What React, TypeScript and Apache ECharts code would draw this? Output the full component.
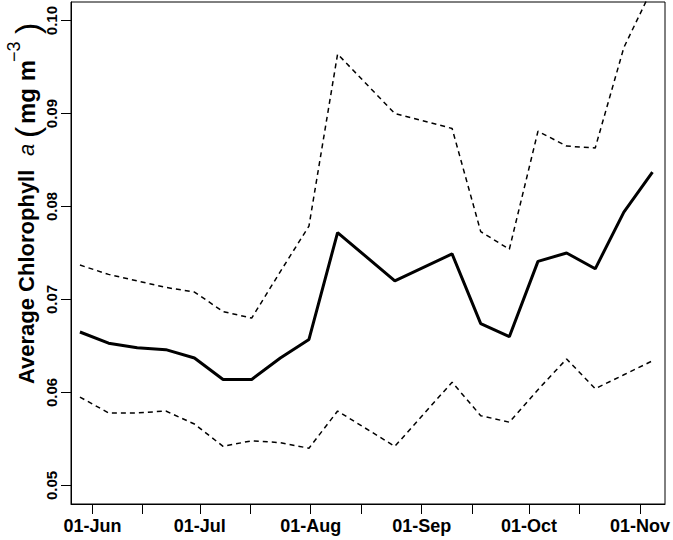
import React, { useEffect, useRef } from "react";
import * as echarts from "echarts";

// 8-day composite mid-points (day of year)
const compositeDoy = [148.5, 156.5, 164.5, 172.5, 180.5, 188.5, 196.5, 204.5, 212.5, 220.5, 236.5, 252.5, 260.5, 268.5, 276.5, 284.5, 292.5, 300.5, 308.5];
const meanChl = [0.0665, 0.0653, 0.0648, 0.0646, 0.0637, 0.0614, 0.0614, 0.0637, 0.0657, 0.0772, 0.0720, 0.0749, 0.0674, 0.0660, 0.0741, 0.0750, 0.0733, 0.0794, 0.0837];
const upperChl = [0.0737, 0.0727, 0.0720, 0.0713, 0.0708, 0.0687, 0.0680, 0.0730, 0.0779, 0.0964, 0.0900, 0.0884, 0.0773, 0.0754, 0.0881, 0.0865, 0.0863, 0.0971, 0.1035];
const lowerChl = [0.0595, 0.0578, 0.0578, 0.0580, 0.0566, 0.0542, 0.0548, 0.0546, 0.0540, 0.0580, 0.0542, 0.0611, 0.0575, 0.0568, 0.0603, 0.0636, 0.0604, 0.0619, 0.0634];

const monthTickDoy = [152, 182, 213, 244, 274, 305];
const monthLabels = ["01-Jun", "01-Jul", "01-Aug", "01-Sep", "01-Oct", "01-Nov"];
const midMonthTickDoy = [166, 196, 227, 258, 288];
const yTicks = [0.05, 0.06, 0.07, 0.08, 0.09, 0.1];

const FONT = "Liberation Sans";

export default function App() {
  const ref = useRef<HTMLDivElement>(null);
  useEffect(() => {
    if (!ref.current) return;
    const chart = echarts.init(ref.current, undefined, { renderer: "svg" });
    const toPairs = (vals: number[]) => compositeDoy.map((d, i) => [d, vals[i]]);
    const allTicks = [...monthTickDoy, ...midMonthTickDoy].sort((a, b) => a - b);
    chart.setOption({
      animation: false,
      backgroundColor: "#fff",
      grid: {
        left: 71,
        right: 8,
        top: 2,
        bottom: 36,
        show: true,
        borderColor: "#000",
        borderWidth: 1,
      },
      xAxis: {
        type: "value",
        min: 146,
        max: 312,
        axisLine: { show: true, lineStyle: { color: "#000", width: 1 } },
        axisTick: { show: true, customValues: allTicks, length: 10, lineStyle: { color: "#000", width: 1 } },
        axisLabel: {
          customValues: monthTickDoy,
          formatter: (v: number) => {
            const i = monthTickDoy.indexOf(Math.round(v));
            return i >= 0 ? monthLabels[i] : "";
          },
          color: "#000",
          fontSize: 18,
          fontWeight: "bold",
          fontFamily: FONT,
          margin: 13,
        },
        splitLine: { show: false },
      },
      yAxis: {
        type: "value",
        min: 0.048,
        max: 0.102,
        axisLine: { show: true, lineStyle: { color: "#000", width: 1 } },
        axisTick: { show: true, customValues: yTicks, length: 10, lineStyle: { color: "#000", width: 1 } },
        axisLabel: {
          customValues: yTicks,
          rotate: 90,
          formatter: (v: number) => v.toFixed(2),
          color: "#000",
          fontSize: 15,
          fontWeight: "bold",
          fontFamily: FONT,
          margin: 12,
        },
        splitLine: { show: false },
      },
      series: [
        {
          type: "line",
          data: toPairs(upperChl),
          symbol: "none",
          clip: true,
          lineStyle: { color: "#000", width: 1.5, type: [5, 4] },
        },
        {
          type: "line",
          data: toPairs(lowerChl),
          symbol: "none",
          clip: true,
          lineStyle: { color: "#000", width: 1.5, type: [5, 4] },
        },
        {
          type: "line",
          data: toPairs(meanChl),
          symbol: "none",
          clip: true,
          z: 3,
          lineStyle: { color: "#000", width: 3 },
        },
      ],
      graphic: [
        {
          type: "group",
          x: 26,
          y: 384,
          rotation: Math.PI / 2,
          children: [
            { type: "text", x: 0, y: 0, style: { text: "Average Chlorophyll", fontSize: 22, fontWeight: "bold", fontFamily: FONT, fill: "#000", align: "left", verticalAlign: "middle" } },
            { type: "text", x: 228, y: 0, style: { text: "a", fontSize: 22, fontStyle: "italic", fontFamily: FONT, fill: "#000", align: "left", verticalAlign: "middle" } },
            { type: "text", x: 246, y: 1, style: { text: "(", fontSize: 34, fontFamily: FONT, fill: "#000", align: "left", verticalAlign: "middle" } },
            { type: "text", x: 260, y: 0, style: { text: "mg m", fontSize: 24, fontWeight: "bold", fontFamily: FONT, fill: "#000", align: "left", verticalAlign: "middle" } },
            { type: "text", x: 322, y: -12, style: { text: "\u22123", fontSize: 18, fontFamily: FONT, fill: "#000", align: "left", verticalAlign: "middle" } },
            { type: "text", x: 350, y: 1, style: { text: ")", fontSize: 34, fontFamily: FONT, fill: "#000", align: "left", verticalAlign: "middle" } },
          ],
        },
      ],
    });
    return () => chart.dispose();
  }, []);
  return <div ref={ref} style={{ position: "absolute", left: 0, top: 0, width: 673, height: 540 }} />;
}
